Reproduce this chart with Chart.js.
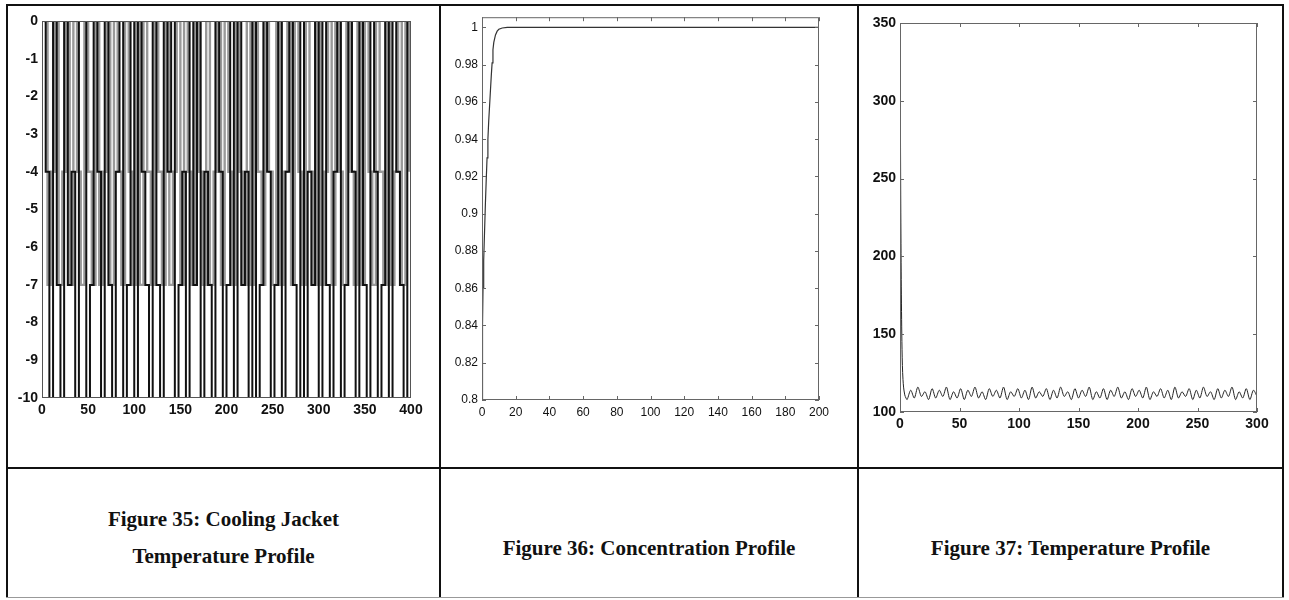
<!DOCTYPE html>
<html>
<head>
<meta charset="utf-8">
<script src="https://cdn.jsdelivr.net/npm/chart.js@4.4.0/dist/chart.umd.min.js"></script>
<style>
    body { margin: 0; width: 1289px; height: 600px; background: #fff; position: relative; overflow: hidden; }
    canvas { position: absolute; }
    .ln { position: absolute; background: #111; }
    .cap { position: absolute; font: bold 21px 'Liberation Serif', 'Times New Roman', serif; color: #111; text-align: center; white-space: nowrap; }
</style>
</head>
<body>
<!-- table rules -->
<div class="ln" style="left:6px;top:4px;width:1278px;height:2px"></div>
<div class="ln" style="left:6px;top:4px;width:2px;height:594px"></div>
<div class="ln" style="left:1282px;top:4px;width:2px;height:594px"></div>
<div class="ln" style="left:439px;top:4px;width:2px;height:594px"></div>
<div class="ln" style="left:857px;top:4px;width:2px;height:594px"></div>
<div class="ln" style="left:6px;top:467px;width:1278px;height:2px"></div>
<div class="ln" style="left:6px;top:597px;width:1278px;height:1px;background:#999"></div>

<canvas id="jacketChart" width="430" height="458" style="left:8px;top:6px"></canvas>
<canvas id="concChart" width="414" height="458" style="left:442px;top:6px"></canvas>
<canvas id="tempChart" width="422" height="458" style="left:860px;top:6px"></canvas>

<div class="cap" style="left:8px;width:431px;top:507px">Figure 35: Cooling Jacket</div>
<div class="cap" style="left:8px;width:431px;top:544px">Temperature Profile</div>
<div class="cap" style="left:441px;width:416px;top:536px">Figure 36: Concentration Profile</div>
<div class="cap" style="left:859px;width:423px;top:536px">Figure 37: Temperature Profile</div>

<script>
// Figure 35 - cooling jacket temperature (bang-bang), dark trace sampled at 0,4,8,...
const jacketStep = 4;
const jacketValues = [
    0, -4, -10, 0, -7, -10, 0, -7, -4, -10,
    0, 0, -10, -7, 0, -4, -10, 0, -7, -10,
    -4, 0, -10, -7, 0, -10, 0, -4, -7, -10,
    0, -7, -10, 0, -4, 0, -10, -7, -4, -10,
    0, -7, 0, -10, -4, -7, -10, 0, -4, -10,
    -7, 0, -10, 0, -7, -4, -10, 0, -10, -7,
    0, -4, -10, -7, 0, -10, -4, 0, -7, -10,
    0, -10, -4, -7, 0, -10, 0, -7, -10, -4,
    0, -10, -7, 0, -4, -10, 0, -7, -10, 0,
    -4, -10, -7, 0, -10, 0, -4, -7, -10, 0,
    -4
];
// faint (grey in the scan) trace in between, sampled at 2,6,10,...
const jacketShadeStart = 2;
const jacketShadeValues = [
    0, -7, -4, 0, -7, -4, 0, -7, 0, -4,
    -7, 0, -4, -7, 0, -7, -4, 0, -7, 0,
    -4, -7, 0, -4, -7, 0, -7, 0, -4, -7,
    0, -4, -7, 0, -7, -4, 0, -7, 0, -4,
    -7, 0, -4, -7, 0, -7, -4, 0, -7, 0,
    -4, -7, 0, -4, -7, 0, -7, 0, -4, -7,
    0, -4, -7, 0, -7, -4, 0, -7, 0, -4,
    -7, 0, -4, -7, 0, -7, -4, 0, -7, 0,
    -4, -7, 0, -4, -7, 0, -7, 0, -4, -7,
    0, -4, -7, 0, -7, -4, 0, -7, 0, -4
];
const jacketXTicks = [0, 50, 100, 150, 200, 250, 300, 350, 400];
const jacketYTicks = [0, -1, -2, -3, -4, -5, -6, -7, -8, -9, -10];

// Figure 36 - concentration
const concTime = [0, 0.3, 0.6, 1, 1.5, 2, 2.5, 3, 3.5, 4, 4.5, 5, 5.5, 6, 6.5, 7, 8, 9, 10, 12, 15, 200];
const concValues = [0.8, 0.84, 0.86, 0.875, 0.89, 0.905, 0.918, 0.93, 0.94, 0.95, 0.958, 0.966, 0.974,
    0.981, 0.988, 0.992, 0.996, 0.998, 0.999, 0.9997, 1.0, 1.0];
const concXTicks = [0, 20, 40, 60, 80, 100, 120, 140, 160, 180, 200];
const concYTicks = [0.8, 0.82, 0.84, 0.86, 0.88, 0.9, 0.92, 0.94, 0.96, 0.98, 1];

// Figure 37 - reactor temperature: start-up transient, then oscillation sampled every 3 units
const tempStartTime = [0, 0.3, 0.6, 1, 1.5, 2, 2.5, 3, 4, 5];
const tempStartValues = [350, 300, 240, 190, 150, 130, 121, 116, 111, 109];
const tempCycleStart = 6;
const tempCycleStep = 3;
const tempCycleValues = [
    108, 114, 109, 116, 110, 113, 108, 115, 109, 114,
    110, 116, 108, 113, 109, 115, 108, 114, 110, 116,
    109, 113, 108, 115, 110, 114, 109, 116, 108, 113,
    110, 115, 109, 114, 108, 116, 109, 113, 110, 115,
    108, 114, 109, 116, 110, 113, 108, 115, 109, 114,
    110, 116, 108, 113, 109, 115, 108, 114, 110, 116,
    109, 113, 108, 115, 110, 114, 109, 116, 108, 113,
    110, 115, 109, 114, 108, 116, 109, 113, 110, 115,
    108, 114, 109, 116, 110, 113, 108, 115, 109, 114,
    110, 116, 108, 113, 109, 115, 108, 114, 110
];
const tempXTicks = [0, 50, 100, 150, 200, 250, 300];
const tempYTicks = [100, 150, 200, 250, 300, 350];

// box around the axes with inward ticks on all four sides (matlab style)
const frameTicks = {
    id: 'frameTicks',
    afterDatasetsDraw(chart, args, opts) {
        const { ctx, chartArea: a, scales: { x, y } } = chart;
        const len = opts.len;
        ctx.save();
        ctx.strokeStyle = opts.color;
        ctx.lineWidth = 1;
        ctx.strokeRect(a.left + 0.5, a.top + 0.5, a.width - 1, a.height - 1);
        ctx.beginPath();
        x.ticks.forEach(t => {
            const px = Math.round(x.getPixelForValue(t.value)) + 0.5;
            ctx.moveTo(px, a.bottom); ctx.lineTo(px, a.bottom - len);
            ctx.moveTo(px, a.top); ctx.lineTo(px, a.top + len);
        });
        y.ticks.forEach(t => {
            const py = Math.round(y.getPixelForValue(t.value)) + 0.5;
            ctx.moveTo(a.left, py); ctx.lineTo(a.left + len, py);
            ctx.moveTo(a.right, py); ctx.lineTo(a.right - len, py);
        });
        ctx.stroke();
        ctx.restore();
    }
};

const fmt = v => String(+Number(v).toFixed(2));

function makeChart(id, datasets, cfg) {
    const ctx = document.getElementById(id).getContext('2d');
    return new Chart(ctx, {
        type: 'line',
        data: {
            datasets: datasets.map(d => ({
                data: d.points,
                borderColor: d.color,
                borderWidth: d.width,
                pointRadius: 0,
                stepped: d.stepped || false,
                tension: d.tension || 0,
                fill: false
            }))
        },
        plugins: [frameTicks],
        options: {
            responsive: false,
            animation: false,
            layout: { padding: { top: cfg.padTop, right: cfg.padRight, left: 0, bottom: 0 } },
            plugins: {
                legend: { display: false },
                tooltip: { enabled: false },
                frameTicks: { len: cfg.tickLen, color: cfg.frameColor }
            },
            scales: {
                x: {
                    type: 'linear',
                    min: cfg.xTicks[0],
                    max: cfg.xTicks[cfg.xTicks.length - 1],
                    afterFit: s => { s.height = cfg.xHeight; },
                    afterBuildTicks: s => { s.ticks = cfg.xTicks.map(v => ({ value: v })); },
                    grid: { display: false, drawTicks: false },
                    border: { display: false },
                    ticks: { color: '#111', font: cfg.xFont, padding: cfg.xPad, maxRotation: 0, autoSkip: false, callback: fmt }
                },
                y: {
                    type: 'linear',
                    min: cfg.yMin,
                    max: cfg.yMax,
                    afterFit: s => { s.width = cfg.yWidth; },
                    afterBuildTicks: s => { s.ticks = cfg.yTicks.map(v => ({ value: v })); },
                    grid: { display: false, drawTicks: false },
                    border: { display: false },
                    ticks: { color: '#111', font: cfg.yFont, padding: cfg.yPad, autoSkip: false, callback: fmt }
                }
            }
        }
    });
}

const sans = "'Liberation Sans', Arial, sans-serif";

makeChart('jacketChart', [
    { points: jacketValues.map((v, i) => ({ x: i * jacketStep, y: v })), color: '#111', width: 2, stepped: true },
    { points: jacketShadeValues.map((v, i) => ({ x: jacketShadeStart + i * jacketStep, y: v })), color: '#999', width: 2.4, stepped: true }
], {
    xTicks: jacketXTicks, yTicks: jacketYTicks, yMin: -10, yMax: 0,
    padTop: 15, padRight: 27, yWidth: 34, xHeight: 66,
    xFont: { family: sans, size: 14, weight: 'bold' }, yFont: { family: sans, size: 14, weight: 'bold' },
    xPad: 4, yPad: 4, tickLen: 0, frameColor: '#555'
});

makeChart('concChart', [
    { points: concTime.map((t, i) => ({ x: t, y: concValues[i] })), color: '#333', width: 1.2 }
], {
    xTicks: concXTicks, yTicks: concYTicks, yMin: 0.8, yMax: 1.0055,
    padTop: 11, padRight: 37, yWidth: 40, xHeight: 64,
    xFont: { family: sans, size: 12 }, yFont: { family: sans, size: 12 },
    xPad: 5, yPad: 4, tickLen: 4, frameColor: '#666'
});

makeChart('tempChart', [
    {
        points: tempStartTime.map((t, i) => ({ x: t, y: tempStartValues[i] }))
            .concat(tempCycleValues.map((v, i) => ({ x: tempCycleStart + i * tempCycleStep, y: v }))),
        color: '#222', width: 1, tension: 0.3
    }
], {
    xTicks: tempXTicks, yTicks: tempYTicks, yMin: 100, yMax: 350,
    padTop: 17, padRight: 25, yWidth: 40, xHeight: 52,
    xFont: { family: sans, size: 14, weight: 'bold' }, yFont: { family: sans, size: 14, weight: 'bold' },
    xPad: 4, yPad: 4, tickLen: 4, frameColor: '#666'
});
</script>
</body>
</html>
